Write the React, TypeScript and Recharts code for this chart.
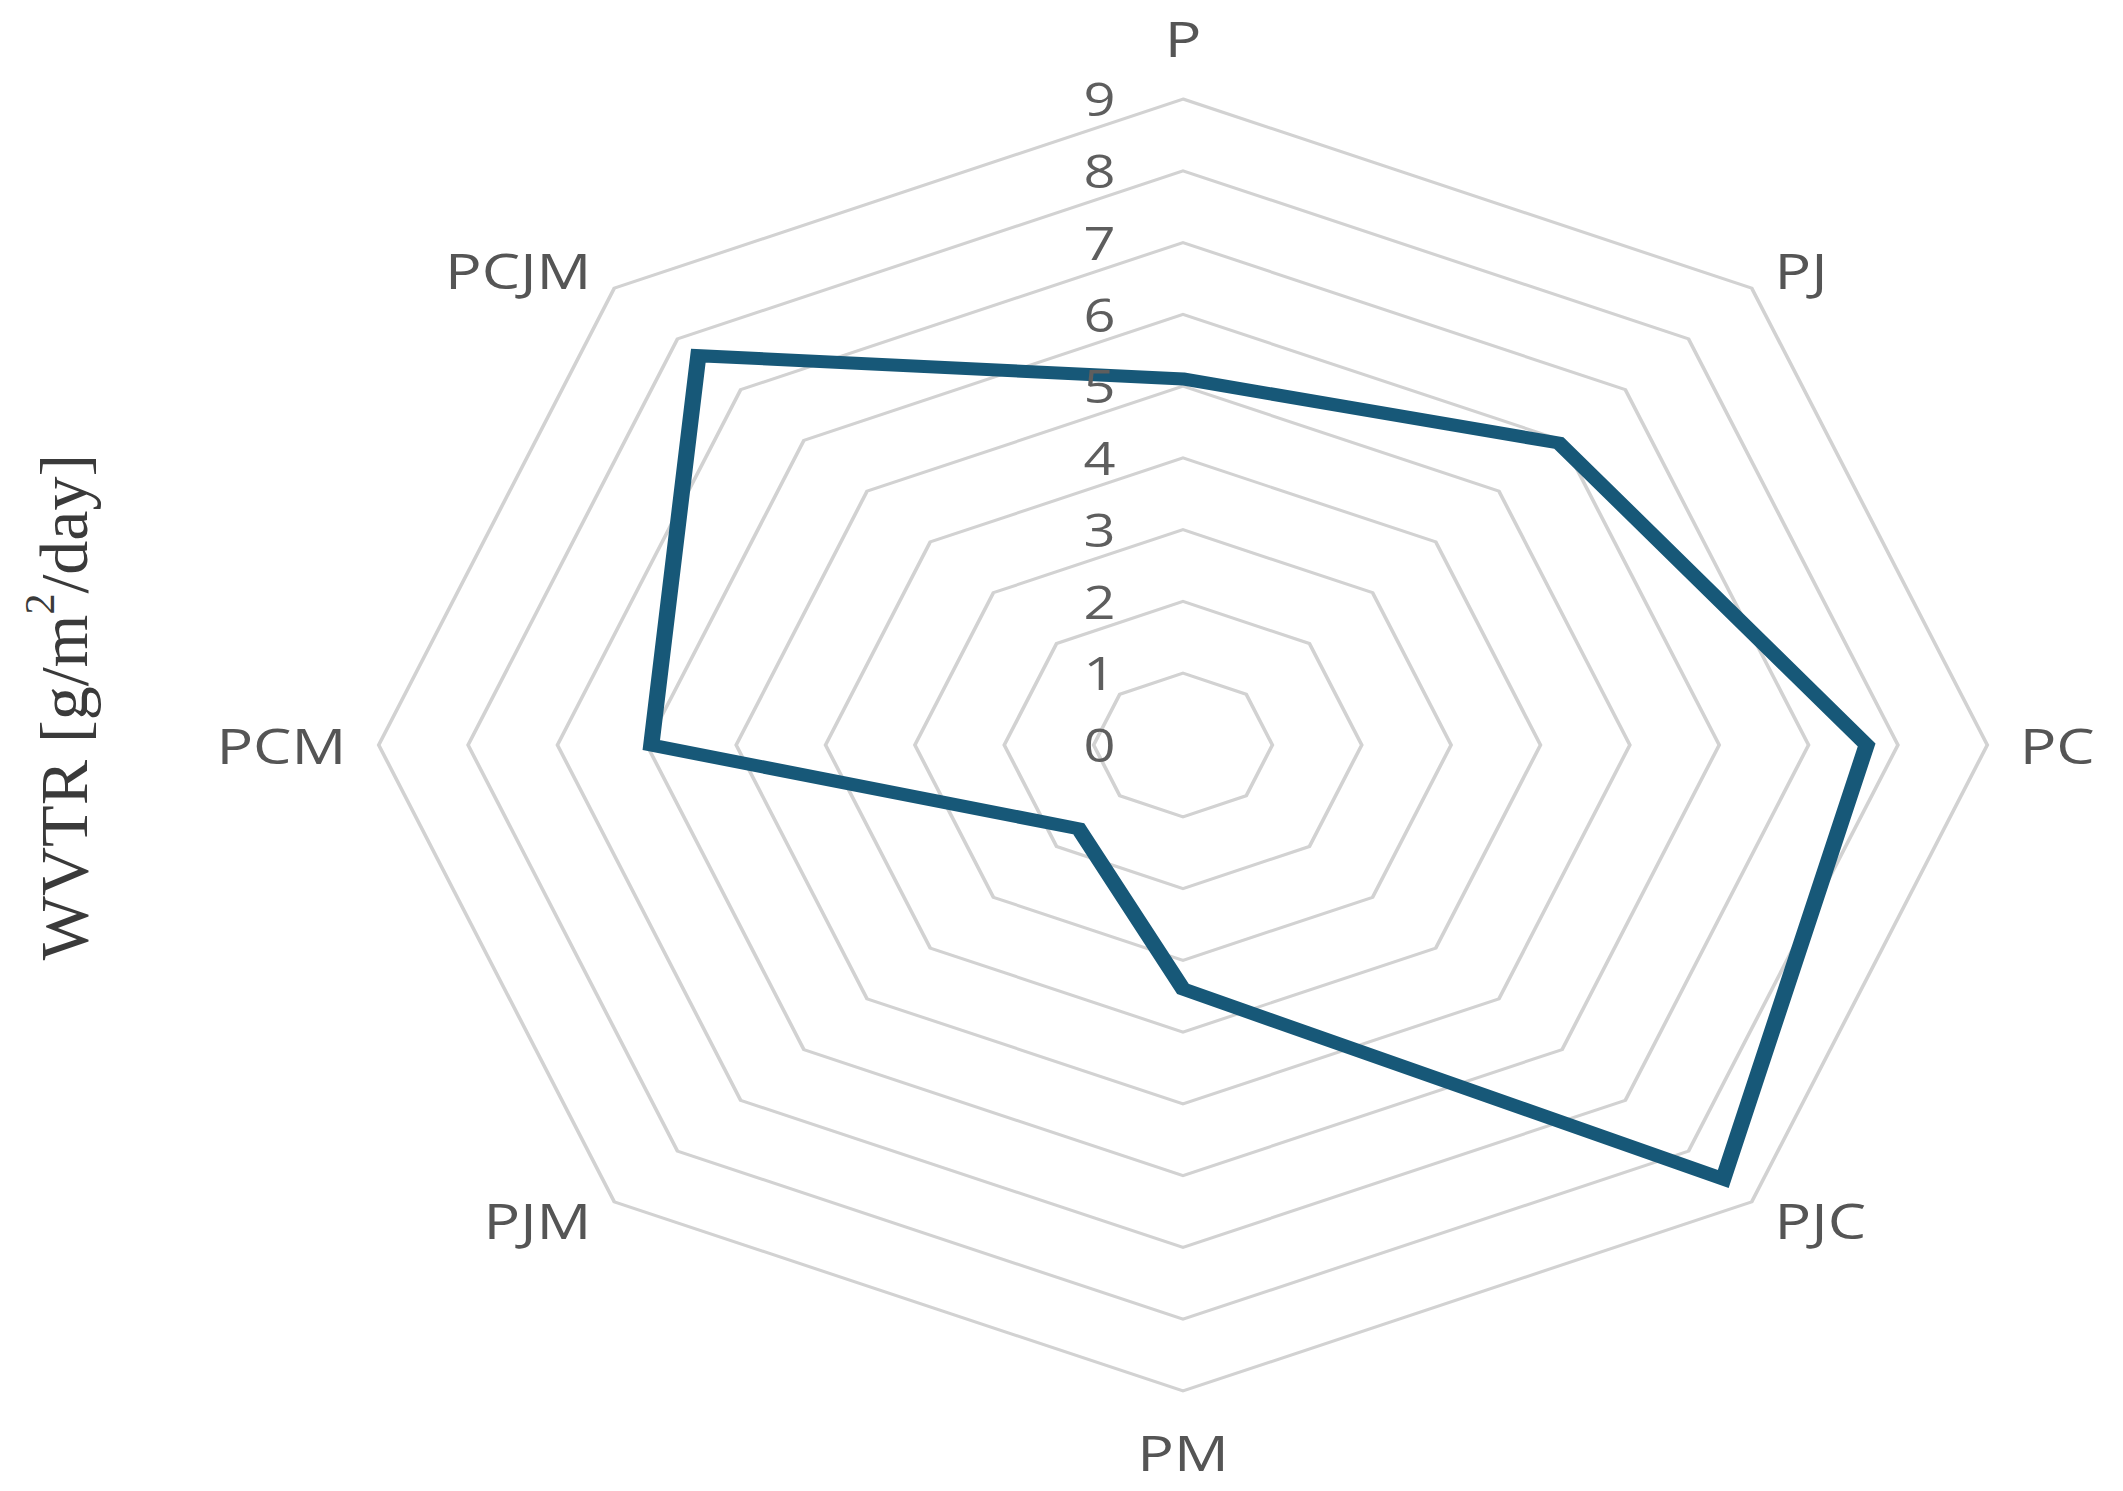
import { PolarAngleAxis, PolarGrid, PolarRadiusAxis, Radar, RadarChart } from 'recharts';

const categories = ['P', 'PJ', 'PC', 'PJC', 'PM', 'PJM', 'PCM', 'PCJM'];
const wvtrValues = [5.1, 5.95, 7.65, 8.55, 3.4, 1.65, 5.95, 7.67];
const radiusTicks = [0, 1, 2, 3, 4, 5, 6, 7, 8, 9];

const data = categories.map((name, i) => ({ name, value: wvtrValues[i] }));

// the source figure is stretched sideways, so the chart is drawn narrow and scaled in x
const STRETCH = 1.245;
const WIDTH = 2123;
const HEIGHT = 1491;
const CX = 1183 / STRETCH;
const CY = 745;
const R = 646;

const labelFont = "'Open Sans', 'DejaVu Sans', sans-serif";

const AngleTick = (props: any) => {
  const { x, y, payload } = props;
  const dx = x - CX;
  const dy = y - CY;
  const len = Math.hypot(dx, dy) || 1;
  const ux = dx / len;
  const uy = dy / len;
  const vertical = Math.abs(ux) < 0.01;
  const d = vertical ? 61 : 26;
  const anchor = vertical ? 'middle' : ux > 0 ? 'start' : 'end';
  return (
    <text
      x={CX + ux * (R + d)}
      y={CY + uy * (R + d)}
      textAnchor={anchor}
      dominantBaseline="central"
      fontFamily={labelFont}
      fontSize={49}
      fontWeight={500}
      fill="#555"
    >
      {payload.value}
    </text>
  );
};

const RadiusTick = (props: any) => {
  const { x, y, payload } = props;
  return (
    <text
      x={x - 67}
      y={y}
      textAnchor="middle"
      dominantBaseline="central"
      fontFamily={labelFont}
      fontSize={45}
      fontWeight={500}
      fill="#5e5e5e"
    >
      {payload.value}
    </text>
  );
};

export default function App() {
  return (
    <div style={{ position: 'relative', width: WIDTH, height: HEIGHT, background: '#fff', overflow: 'hidden' }}>
      <style>{'body{margin:0}'}</style>
      <div
        style={{
          position: 'absolute',
          left: 0,
          top: 0,
          width: WIDTH / STRETCH,
          height: HEIGHT,
          transform: `scaleX(${STRETCH})`,
          transformOrigin: '0 0',
        }}
      >
        <RadarChart
          width={WIDTH / STRETCH}
          height={HEIGHT}
          data={data}
          cx={CX}
          cy={CY}
          outerRadius={R}
          margin={{ top: 0, right: 0, bottom: 0, left: 0 }}
        >
          <PolarGrid gridType="polygon" radialLines={false} stroke="#d2d2d2" strokeWidth={3} />
          <PolarAngleAxis dataKey="name" tick={AngleTick} tickLine={false} axisLine={false} />
          <PolarRadiusAxis
            angle={90}
            domain={[radiusTicks[0], radiusTicks[radiusTicks.length - 1]]}
            tickCount={radiusTicks.length}
            tick={RadiusTick}
            tickLine={false}
            axisLine={false}
          />
          <Radar
            dataKey="value"
            stroke="#175878"
            strokeWidth={13}
            fill="none"
            fillOpacity={0}
            dot={false}
            isAnimationActive={false}
          />
        </RadarChart>
      </div>
      <svg style={{ position: 'absolute', left: 0, top: 0 }} width={160} height={HEIGHT}>
        <text
          transform="translate(64,707) rotate(-90)"
          textAnchor="middle"
          dominantBaseline="central"
          fontFamily="'Liberation Serif', 'DejaVu Serif', serif"
          fontSize={68}
          fill="#3a3a3a"
        >
          WVTR [g/m<tspan dy={-24} fontSize={42}>2</tspan>
          <tspan dy={24}>/day]</tspan>
        </text>
      </svg>
    </div>
  );
}
